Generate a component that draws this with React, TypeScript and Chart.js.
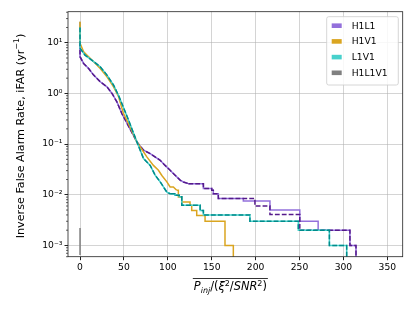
import React, { useEffect, useRef } from 'react';
import { Chart, registerables } from 'chart.js';
Chart.register(...registerables);

const seriesNames = ['H1L1', 'H1V1', 'L1V1', 'H1L1V1'];
const legendColors = ['#9370DB', '#DAA520', '#48D1CC', '#808080'];

const xTickValues = [0, 50, 100, 150, 200, 250, 300, 350];
const yTickValues = [1e-3, 1e-2, 1e-1, 1, 10];
const yTickLabels = ['10⁻³', '10⁻²', '10⁻¹', '10⁰', '10¹'];

// H1L1 (smooth head shared by solid + dashed)
const h1l1HeadX = [0, 0, 4.1, 9.8, 15.5, 23, 30.7, 36.4, 42, 47.7, 51.5, 64.8, 72.3, 79.9, 91.3, 96.9, 102.6, 108.3, 114, 117.7, 123.4];
const h1l1HeadY = [10, 5.3, 3.9, 3.1, 2.3, 1.7, 1.35, 1.0, 0.68, 0.40, 0.30, 0.11, 0.076, 0.065, 0.048, 0.038, 0.0305, 0.0243, 0.0195, 0.0179, 0.0166];
const h1l1TailX = [123.4, 140.5, 150, 151.8, 157.5, 186, 216.3, 250.3, 271.2, 307.4, 314.3];
const h1l1TailY = [0.0166, 0.0133, 0.0123, 0.0105, 0.0084, 0.0075, 0.005, 0.003, 0.002, 0.001, 1e-5];
const h1l1DashTailX = [123.4, 140.5, 150, 151.8, 157.5, 199.2, 216.3, 250.3, 307.4, 314.3];
const h1l1DashTailY = [0.0166, 0.0133, 0.0123, 0.0105, 0.0084, 0.006, 0.0041, 0.002, 0.001, 1e-5];

// H1V1
const h1v1HeadX = [0, 0, 4.1, 9.8, 15.5, 23, 30.7, 38.2, 43.9, 49.5, 53.4, 64.8, 76.1, 83.6, 89.3, 93.2, 98.9, 102.6, 106.3, 110.1];
const h1v1HeadY = [26, 9.8, 6.6, 5.3, 4.2, 3.1, 2.13, 1.35, 0.86, 0.40, 0.295, 0.11, 0.056, 0.038, 0.0305, 0.024, 0.018, 0.0143, 0.0143, 0.0123];
const h1v1TailX = [110.1, 112, 115.8, 125.3, 127.2, 132.9, 142.4, 165.1, 174.6];
const h1v1TailY = [0.0123, 0.009, 0.0072, 0.0062, 0.0049, 0.0039, 0.003, 0.001, 1e-5];

// L1V1 (solid + dashed)
const l1v1HeadX = [0, 0, 5.7, 13.3, 23, 30.7, 38.2, 44.5, 50, 55.5, 64.8, 72.3, 79.9, 85.6, 91.3, 95, 98.9, 102.6];
const l1v1HeadY = [20, 7.8, 5.7, 4.55, 3.36, 2.3, 1.46, 0.86, 0.5, 0.29, 0.11, 0.052, 0.038, 0.0243, 0.018, 0.0143, 0.0113, 0.0105];
const l1v1TailX = [102.6, 108, 113, 115.9, 136.8, 140.5, 193.5, 248.6, 284, 303.7];
const l1v1TailY = [0.0105, 0.0098, 0.0091, 0.0062, 0.0049, 0.004, 0.003, 0.002, 0.001, 1e-5];

// H1L1V1
const h1l1v1X = [0, 0, 0, 0, 0];
const h1l1v1Y = [26, 10, null, 0.0022, 0.00065];

const X_MIN = -13.7;
const X_MAX = 367.5;
const Y_MIN = 6e-4;
const Y_MAX = 41;

const FONT = 'DejaVu Sans';

function pts(xs: number[], ys: (number | null)[]) {
  return xs.map((x, i) => ({ x, y: ys[i] }));
}

function line(data: any, color: string, stepped: any, dash?: number[]) {
  return {
    data,
    borderColor: color,
    backgroundColor: color,
    borderWidth: 1.5,
    pointRadius: 0,
    pointHoverRadius: 0,
    fill: false,
    tension: 0,
    stepped,
    spanGaps: false,
    borderDash: dash || [],
    borderCapStyle: 'butt',
    borderJoinStyle: 'miter',
  };
}

const decorPlugin = {
  id: 'decor',
  afterDraw(chart: any) {
    const ctx = chart.ctx;
    const { left, top, right, bottom } = chart.chartArea;
    const yS = chart.scales.y;
    ctx.save();
    // minor y ticks
    ctx.strokeStyle = '#222';
    ctx.lineWidth = 0.7;
    for (let k = -4; k <= 1; k++) {
      for (let m = 2; m <= 9; m++) {
        const v = m * Math.pow(10, k);
        if (v < Y_MIN || v > Y_MAX) continue;
        const py = yS.getPixelForValue(v);
        ctx.beginPath();
        ctx.moveTo(left - 2, py);
        ctx.lineTo(left, py);
        ctx.stroke();
      }
    }
    // frame
    ctx.strokeStyle = '#222';
    ctx.lineWidth = 0.8;
    ctx.strokeRect(left, top, right - left, bottom - top);

    // legend
    const lx = right - 76, ly = top + 5, lw = 71.6, lh = 68.3;
    ctx.beginPath();
    if (ctx.roundRect) ctx.roundRect(lx, ly, lw, lh, 2); else ctx.rect(lx, ly, lw, lh);
    ctx.fillStyle = 'rgba(255,255,255,0.85)';
    ctx.fill();
    ctx.strokeStyle = '#cccccc';
    ctx.lineWidth = 0.8;
    ctx.stroke();
    ctx.font = `9.2px "${FONT}"`;
    ctx.textBaseline = 'middle';
    ctx.textAlign = 'left';
    seriesNames.forEach((name, i) => {
      const ry = ly + 9 + i * 15.7;
      ctx.fillStyle = legendColors[i];
      ctx.fillRect(lx + 5, ry - 2.3, 10, 4.6);
      ctx.fillStyle = '#000';
      ctx.fillText(name, lx + 25, ry + 0.5);
    });

    // y title
    const ySize = 11.2;
    ctx.save();
    ctx.translate(21, 136);
    ctx.rotate(-Math.PI / 2);
    ctx.fillStyle = '#000';
    ctx.textBaseline = 'middle';
    const main = 'Inverse False Alarm Rate, iFAR (yr';
    ctx.font = `${ySize}px "${FONT}"`;
    const w1 = ctx.measureText(main).width;
    ctx.font = `${ySize * 0.7}px "${FONT}"`;
    const w2 = ctx.measureText('−1').width;
    ctx.font = `${ySize}px "${FONT}"`;
    const w3 = ctx.measureText(')').width;
    let cx = -(w1 + w2 + w3) / 2;
    ctx.fillText(main, cx, 0);
    cx += w1;
    ctx.font = `${ySize * 0.7}px "${FONT}"`;
    ctx.fillText('−1', cx, -ySize * 0.35);
    cx += w2;
    ctx.font = `${ySize}px "${FONT}"`;
    ctx.fillText(')', cx, 0);
    ctx.restore();

    // x title (mathtext-like)
    const xs = 11.4;
    const segs = [
      { t: 'P', it: true, s: 1, dy: 0 },
      { t: 'inj', it: true, s: 0.7, dy: 0.22 },
      { t: '/(', it: false, s: 1, dy: 0 },
      { t: 'ξ', it: true, s: 1, dy: 0 },
      { t: '2', it: false, s: 0.7, dy: -0.4 },
      { t: '/', it: false, s: 1, dy: 0 },
      { t: 'SNR', it: true, s: 1, dy: 0 },
      { t: '2', it: false, s: 0.7, dy: -0.4 },
      { t: ')', it: false, s: 1, dy: 0 },
    ];
    const fontOf = (sg: any) => `${sg.it ? 'oblique ' : ''}${xs * sg.s}px "${FONT}"`;
    let total = 0;
    const widths = segs.map((sg) => {
      ctx.font = fontOf(sg);
      const w = ctx.measureText(sg.t).width;
      total += w;
      return w;
    });
    const xc = (left + right) / 2 - 5;
    const base = 290.3;
    let px = xc - total / 2;
    ctx.textBaseline = 'alphabetic';
    ctx.fillStyle = '#000';
    segs.forEach((sg, i) => {
      ctx.font = fontOf(sg);
      ctx.fillText(sg.t, px, base + sg.dy * xs);
      px += widths[i];
    });
    ctx.strokeStyle = '#000';
    ctx.lineWidth = 0.8;
    ctx.beginPath();
    ctx.moveTo(xc - total / 2 - 1, 278.5);
    ctx.lineTo(xc + total / 2 + 1, 278.5);
    ctx.stroke();
    ctx.restore();
  },
};

export default function App() {
  const ref = useRef<HTMLCanvasElement>(null);
  useEffect(() => {
    document.body.style.margin = '0';
    const c = ref.current!;
    const datasets: any[] = [
      line(pts(l1v1HeadX, l1v1HeadY), '#008B8B', false, [4.8, 2.1]),
      line(pts(l1v1TailX, l1v1TailY), '#008B8B', 'before', [4.8, 2.1]),
      line(pts(l1v1HeadX, l1v1HeadY), '#48D1CC', false),
      line(pts(l1v1TailX, l1v1TailY), '#48D1CC', 'before'),
      line(pts(h1v1HeadX, h1v1HeadY), '#DAA520', false),
      line(pts(h1v1TailX, h1v1TailY), '#DAA520', 'before'),
      line(pts(h1l1HeadX, h1l1HeadY), '#551A8B', false, [4.8, 2.1]),
      line(pts(h1l1DashTailX, h1l1DashTailY), '#551A8B', 'before', [4.8, 2.1]),
      line(pts(h1l1HeadX, h1l1HeadY), '#9370DB', false),
      line(pts(h1l1TailX, h1l1TailY), '#9370DB', 'before'),
      line(pts(h1l1v1X, h1l1v1Y), '#808080', false),
    ];
    const chart = new Chart(c, {
      type: 'line',
      data: { datasets },
      plugins: [decorPlugin],
      options: {
        animation: false,
        responsive: false,
        devicePixelRatio: 1,
        layout: { padding: { top: 11.7, right: 12.3, left: 0, bottom: 0 } },
        plugins: { legend: { display: false }, tooltip: { enabled: false } },
        scales: {
          x: {
            type: 'linear',
            min: X_MIN,
            max: X_MAX,
            afterBuildTicks: (s: any) => { s.ticks = xTickValues.map((v) => ({ value: v })); },
            afterFit: (s: any) => { s.height = 54.3; },
            ticks: { font: { family: FONT, size: 9.2 }, color: '#000', padding: 2, maxRotation: 0, autoSkip: false },
            grid: { color: 'rgba(176,176,176,0.55)', lineWidth: 1, tickColor: '#222', tickLength: 3.5, drawTicks: true },
            border: { display: false },
          },
          y: {
            type: 'logarithmic',
            min: Y_MIN,
            max: Y_MAX,
            afterBuildTicks: (s: any) => { s.ticks = yTickValues.map((v) => ({ value: v, major: true })); },
            afterFit: (s: any) => { s.width = 68; },
            ticks: {
              font: { family: FONT, size: 9.2 },
              color: '#000',
              padding: 2,
              autoSkip: false,
              callback: (_v: any, i: number) => yTickLabels[i],
            },
            grid: { color: 'rgba(176,176,176,0.55)', lineWidth: 1, tickColor: '#222', tickLength: 3.5, drawTicks: true },
            border: { display: false },
          },
        },
      },
    });
    return () => chart.destroy();
  }, []);
  return (
    <div style={{ width: 415, height: 311 }}>
      <canvas ref={ref} width={415} height={311} style={{ width: 415, height: 311, display: 'block' }} />
    </div>
  );
}
